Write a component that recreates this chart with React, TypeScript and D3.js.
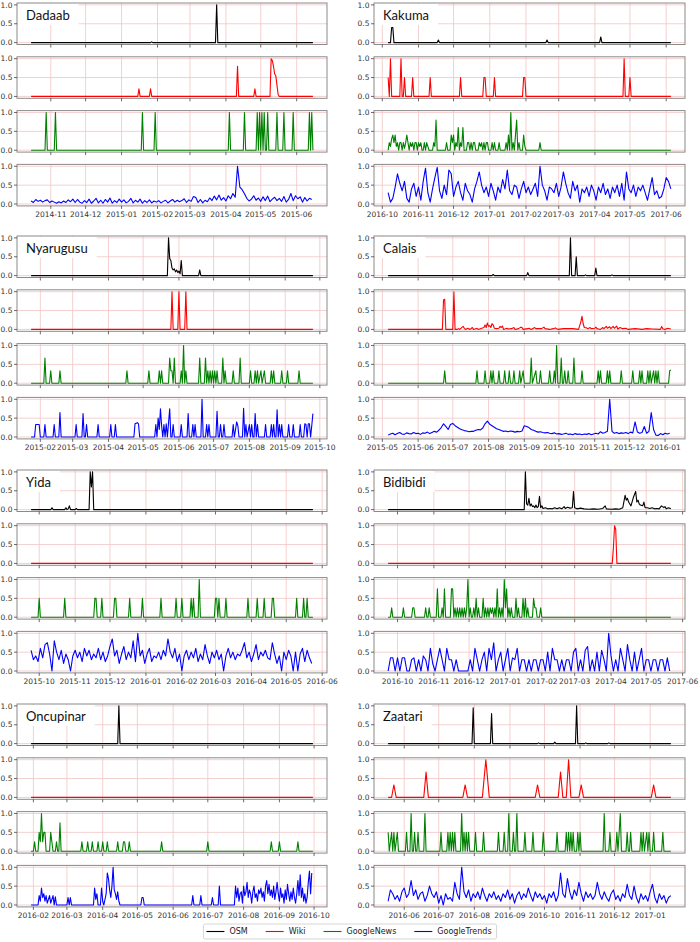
import React from "react";
import * as d3 from "d3";

type Pt = [number, number];

// layout (pixels)
const WIDTH = 700;
const HEIGHT = 942;
const colLeft = [17, 374];
const colWidth = [310, 311];
const rowTop = [3, 236, 470, 704];
const subPitch = 53.8;
const subHeight = 41.5;

const seriesNames = ["OSM", "Wiki", "GoogleNews", "GoogleTrends"];
const seriesColors = ["#000000", "#ff0000", "#008000", "#0000ff"];
const yTickValues = [0, 0.5, 1];
const trendStep = 2;

// ---- Dadaab (days from 2014-10-15) ----
const dadaabOsm: Pt[] = [[0,0],[103,0],[104,0.02],[105,0],[159,0],[160,1],[161,0],[243,0]];
const dadaabWiki: Pt[] = [[0,0],[92,0],[93,0.2],[94,0],[102,0],[103,0.2],[104,0],[177,0],[178,0.8],[179,0],[192,0],[193,0.2],[194,0],[206,0],[207,1],[208,0.95],[209,0.8],[210,0.6],[211,0.55],[212,0.3],[213,0.05],[214,0],[243,0]];
const dadaabNews: Pt[] = [[0,0],[12,0],[13,1],[14,0],[20,0],[21,1],[22,0],[95,0],[96,1],[97,0],[106,0],[107,1],[108,0],[170,0],[171,1],[172,0],[183,0],[184,1],[185,0],[194,0],[195,1],[196,0],[197,1],[198,0],[199,1],[200,0],[201,1],[202,0],[203,0],[204,1],[205,0],[211,0],[212,1],[213,0],[217,0],[218,1],[219,0],[225,0],[226,1],[227,0],[239,0],[240,1],[241,0],[242,1],[243,0]];
const dadaabTrends = [
  0.08,0.04,0.12,0.07,0.10,0.05,0.09,0.11,0.04,0.08,
  0.05,0.02,0.06,0.03,0.08,0.04,0.11,0.06,0.13,0.04,
  0.12,0.05,0.02,0.09,0.04,0.13,0.02,0.08,0.15,0.03,
  0.10,0.02,0.12,0.05,0.16,0.02,0.09,0.04,0.13,0.05,
  0.11,0.03,0.07,0.15,0.03,0.10,0.05,0.13,0.02,0.09,
  0.04,0.11,0.03,0.08,0.05,0.09,0.03,0.07,0.10,0.03,
  0.08,0.12,0.05,0.10,0.06,0.09,0.14,0.04,0.11,0.07,
  0.20,0.17,0.04,0.12,0.03,0.10,0.06,0.16,0.09,0.21,
  0.11,0.24,0.10,0.17,0.08,0.22,0.14,0.28,0.18,1.00,
  0.45,0.38,0.27,0.15,0.08,0.13,0.22,0.10,0.16,0.07,
  0.19,0.09,0.21,0.06,0.13,0.18,0.09,0.15,0.07,0.20,
  0.05,0.12,0.28,0.09,0.22,0.14,0.19,0.05,0.17,0.08,0.15,0.12,
];

// ---- Kakuma (days from 2016-10-06) ----
const kakumaOsm: Pt[] = [[0,0],[2,0],[3,0.4],[4,0.4],[5,0],[42,0],[43,0.07],[44,0],[135,0],[136,0.07],[137,0],[181,0],[182,0.15],[183,0],[242,0]];
const kakumaWiki: Pt[] = [[0,0.5],[1,0],[2,1],[3,0],[10,0],[11,1],[12,0],[13,0],[14,0.5],[15,0],[20,0],[21,0.5],[22,0],[35,0],[36,0.5],[37,0],[61,0],[62,0.5],[63,0],[81,0],[82,0.5],[83,0.5],[84,0],[90,0],[91,0.5],[92,0],[115,0],[116,0.5],[117,0.5],[118,0],[201,0],[202,1],[203,0],[206,0],[207,0.5],[208,0],[242,0]];
const kakumaNews: Pt[] = [[0,0],[1,0.2],[2,0.1],[3,0.3],[4,0.4],[5,0.2],[6,0.4],[7,0.1],[8,0.2],[9,0],[10,0.2],[11,0.2],[12,0],[13,0.2],[14,0.05],[15,0.2],[16,0.4],[17,0.2],[18,0],[19,0.2],[20,0.1],[21,0.2],[22,0],[23,0.2],[24,0.2],[25,0],[26,0.2],[27,0.1],[28,0.2],[29,0],[30,0],[31,0.2],[32,0],[33,0.2],[34,0.1],[35,0],[38,0],[39,0.2],[40,0.1],[41,0.8],[42,0],[49,0],[50,0.2],[51,0],[53,0],[54,0.4],[55,0.2],[56,0.4],[57,0],[58,0.2],[59,0.1],[60,0.6],[61,0],[62,0.2],[63,0.1],[64,0.6],[65,0],[67,0],[68,0.2],[69,0.2],[70,0],[71,0.2],[72,0],[73,0.2],[74,0.2],[75,0],[77,0],[78,0.2],[79,0.1],[80,0.2],[81,0],[82,0.2],[83,0],[84,0.2],[85,0.2],[86,0],[88,0],[89,0.2],[90,0],[91,0.2],[92,0],[94,0],[95,0.2],[96,0],[100,0],[101,0.2],[102,0],[103,0.4],[104,0],[105,1],[106,0],[107,0.2],[108,0],[109,0.4],[110,0.8],[111,0],[112,0.2],[113,0],[115,0],[116,0.4],[117,0.1],[118,0],[129,0],[130,0.2],[131,0],[242,0]];
const kakumaTrends = [
  0.30,0.05,0.15,0.45,0.80,0.55,0.35,0.60,0.15,0.05,
  0.40,0.55,0.20,0.45,0.10,0.60,0.95,0.30,0.05,0.40,
  0.70,0.97,0.35,0.15,0.50,0.25,0.90,0.80,0.20,0.45,
  0.60,0.30,0.10,0.55,0.35,0.25,0.05,0.40,0.60,0.85,
  0.50,0.30,0.45,0.20,0.55,0.35,0.10,0.45,0.30,0.65,
  0.40,0.90,0.35,0.25,0.50,0.45,0.15,0.40,0.60,0.30,
  0.45,0.25,0.40,0.55,0.20,1.00,0.50,0.35,0.10,0.45,
  0.40,0.30,0.55,0.20,0.45,0.85,0.55,0.30,0.15,0.60,
  0.35,0.50,0.05,0.40,0.30,0.45,0.20,0.50,0.35,0.10,
  0.45,0.30,0.55,0.25,0.40,0.15,0.45,0.30,0.50,0.20,
  0.55,0.10,0.85,0.40,0.30,0.50,0.20,0.45,0.35,0.50,
  0.30,0.10,0.40,0.70,0.25,0.35,0.15,0.20,0.40,0.70,0.60,0.40,
];

// ---- Nyarugusu (days from 2015-01-24) ----
const nyarugusuOsm: Pt[] = [[0,0],[118,0],[119,1],[120,0.45],[121,0.4],[122,0.2],[123,0.15],[124,0.18],[125,0.1],[126,0.15],[127,0.08],[128,0.12],[129,0.05],[130,0.4],[131,0],[145,0],[146,0.15],[147,0],[244,0]];
const nyarugusuWiki: Pt[] = [[0,0],[121,0],[122,1],[123,0],[127,0],[128,1],[129,0],[133,0],[134,1],[135,0],[244,0]];
const nyarugusuNews: Pt[] = [[0,0],[11,0],[12,0.67],[13,0],[16,0],[17,0.33],[18,0],[24,0],[25,0.33],[26,0],[82,0],[83,0.33],[84,0],[101,0],[102,0.33],[103,0],[110,0],[111,0.33],[112,0],[113,0.33],[114,0],[119,0],[120,0.67],[121,0.33],[122,0.33],[123,0],[124,0.67],[125,0],[129,0],[130,0.33],[131,0],[132,1],[133,0],[134,0.33],[135,0],[145,0],[146,0.67],[147,0],[150,0],[151,0.67],[152,0],[153,0.33],[154,0],[155,0.33],[156,0],[157,0.33],[158,0],[159,0.33],[160,0],[161,0.33],[162,0],[165,0],[166,0.67],[167,0],[168,0.33],[169,0],[174,0],[175,0.33],[176,0],[180,0],[181,0.67],[182,0],[189,0],[190,0.33],[191,0],[193,0],[194,0.33],[195,0],[196,0.33],[197,0],[199,0.33],[200,0],[202,0.33],[203,0],[207,0],[208,0.33],[209,0],[210,0.33],[211,0],[216,0],[217,0.33],[218,0],[221,0],[222,0.33],[223,0],[231,0],[232,0.33],[233,0],[244,0]];
const nyarugusuTrends: Pt[] = [[0,0],[3,0],[4,0.33],[7,0.33],[8,0],[11,0],[12,0.33],[13,0],[19,0],[20,0.33],[21,0],[24,0],[25,0.65],[26,0],[38,0],[39,0.33],[40,0],[44,0],[45,0.62],[46,0],[47,0],[48,0.33],[49,0],[57,0],[58,0.33],[59,0],[68,0],[69,0.33],[70,0],[72,0],[73,0.33],[74,0],[89,0],[90,0.35],[92,0.38],[93,0.35],[94,0],[107,0],[108,0.33],[109,0],[110,0.5],[111,0.2],[112,0.75],[113,0.3],[114,0],[115,0.33],[116,0],[117,0.35],[118,0],[120,0.75],[121,0],[122,0],[123,0.33],[124,0],[129,0],[130,0.33],[131,0],[135,0],[136,0.62],[137,0],[139,0],[140,0.33],[141,0],[142,0.33],[143,0],[147,0],[148,1],[149,0],[151,0],[152,0.33],[153,0],[154,0.33],[155,0],[160,0],[161,0.68],[162,0],[163,0],[164,0.33],[165,0],[166,0],[167,0.33],[168,0],[174,0],[175,0.33],[176,0],[177,0.2],[178,0.4],[179,0.3],[180,0],[183,0],[184,0.76],[185,0],[186,0.33],[187,0],[189,0.33],[190,0],[191,0.33],[192,0],[193,0],[194,0.62],[195,0],[196,0.33],[197,0],[202,0],[203,0.33],[204,0],[207,0],[208,0.33],[209,0],[210,0.33],[211,0],[212,0],[213,0.72],[214,0],[215,0.33],[216,0],[217,0.33],[218,0],[222,0],[223,0.33],[224,0],[226,0],[227,0.33],[228,0],[232,0],[233,0.33],[234,0],[236,0],[237,0.35],[238,0.33],[239,0],[240,0.35],[241,0.35],[242,0],[243,0.3],[244,0.62]];

// ---- Calais (days from 2015-05-06) ----
const calaisOsm: Pt[] = [[0,0],[90,0],[91,0.03],[92,0],[120,0],[121,0.08],[122,0],[157,0],[158,1],[159,0],[162,0],[163,0.5],[164,0],[170,0],[171,0.02],[172,0],[179,0],[180,0.2],[181,0],[193,0],[194,0.02],[195,0],[245,0]];
const calaisWiki: Pt[] = [[0,0],[47,0],[48,0.78],[49,0.8],[50,0],[56,0],[57,1],[58,0],[60,0],[61,0.02],[62,0],[65,0.08],[66,0.03],[67,0],[69,0.03],[71,0],[73,0.05],[74,0],[77,0.03],[78,0],[83,0.05],[84,0.12],[85,0.05],[86,0.17],[87,0.08],[88,0.1],[89,0.05],[90,0.15],[91,0.12],[92,0.03],[94,0.02],[96,0.03],[97,0.08],[98,0.05],[99,0.09],[100,0],[103,0.03],[104,0.01],[107,0.02],[109,0.05],[110,0],[113,0.02],[115,0.06],[116,0.05],[117,0],[121,0.02],[122,0.03],[124,0],[127,0.05],[128,0.02],[133,0.02],[135,0.06],[136,0.02],[140,0],[143,0.02],[145,0.04],[147,0],[152,0.02],[160,0.02],[165,0],[167,0.2],[168,0.35],[169,0.15],[170,0.05],[172,0.04],[173,0.02],[175,0.05],[176,0.02],[179,0.03],[180,0.06],[181,0.02],[184,0],[186,0.05],[187,0.02],[189,0.08],[190,0.03],[192,0.07],[193,0.02],[195,0.08],[196,0.03],[198,0.09],[199,0.01],[201,0.05],[203,0.02],[206,0.03],[208,0],[214,0.02],[220,0],[224,0.02],[229,0.01],[236,0],[237,0.08],[238,0.02],[240,0],[242,0.03],[245,0.01]];
const calaisNews: Pt[] = [[0,0],[48,0],[49,0.33],[50,0],[76,0],[77,0.33],[78,0],[83,0],[84,0.33],[85,0],[88,0],[89,0.33],[90,0],[91,0.33],[92,0],[95,0],[96,0.33],[97,0],[100,0],[101,0.33],[102,0],[104,0],[105,0.33],[106,0],[108,0],[109,0.33],[110,0],[113,0],[114,0.33],[115,0],[117,0.33],[118,0],[123,0],[124,0.67],[125,0],[128,0.33],[129,0],[131,0],[132,0.33],[133,0],[139,0],[140,0.33],[141,0],[143,0],[144,0.33],[145,0],[146,1],[147,0],[149,0],[150,0.67],[151,0],[152,0],[153,0.33],[154,0],[155,0],[156,0.33],[157,0],[160,0],[161,0.67],[162,0],[167,0],[168,0.33],[169,0],[181,0],[182,0.33],[183,0],[184,0.33],[185,0],[189,0],[190,0.33],[191,0],[192,0.33],[193,0],[201,0],[202,0.33],[203,0],[211,0],[212,0.33],[213,0],[217,0],[218,0.33],[219,0],[220,0.33],[221,0],[224,0],[225,0.33],[226,0],[227,0.33],[228,0],[230,0.33],[231,0],[232,0.33],[233,0],[234,0.33],[235,0],[243,0],[244,0.33],[245,0.35]];
const calaisTrends = [
  0.05,0.08,0.10,0.06,0.09,0.12,0.08,0.07,0.11,0.09,
  0.08,0.12,0.09,0.10,0.07,0.11,0.10,0.13,0.09,0.12,
  0.15,0.13,0.18,0.25,0.35,0.28,0.20,0.33,0.36,0.30,
  0.26,0.22,0.19,0.17,0.16,0.14,0.15,0.15,0.18,0.20,
  0.19,0.24,0.35,0.42,0.34,0.30,0.26,0.22,0.20,0.17,
  0.15,0.16,0.14,0.16,0.15,0.13,0.15,0.14,0.16,0.30,
  0.28,0.25,0.20,0.18,0.15,0.13,0.14,0.12,0.11,0.12,
  0.10,0.09,0.11,0.08,0.09,0.07,0.08,0.10,0.07,0.08,
  0.06,0.09,0.07,0.08,0.06,0.08,0.07,0.09,0.06,0.08,
  0.10,0.08,0.14,0.10,0.12,0.15,1.00,0.15,0.10,0.12,
  0.09,0.11,0.10,0.12,0.09,0.13,0.11,0.40,0.13,0.10,
  0.12,0.28,0.10,0.15,0.65,0.20,0.05,0.04,0.09,0.06,0.10,0.08,0.10,
];

// ---- Yida (days from 2015-09-24) ----
const yidaOsm: Pt[] = [[0,0],[17,0],[18,0.05],[19,0],[29,0],[30,0.05],[31,0],[32,0.02],[33,0.1],[34,0],[38,0],[39,0.03],[40,0],[50,0],[51,1],[52,0.6],[53,1],[54,0],[243,0]];
const yidaWiki: Pt[] = [[0,0],[243,0]];
const yidaNews: Pt[] = [[0,0],[6,0],[7,0.5],[8,0],[28,0],[29,0.5],[30,0],[54,0],[55,0.5],[56,0.5],[57,0],[60,0],[61,0.5],[62,0],[71,0],[72,0.5],[73,0.5],[74,0],[84,0],[85,0.5],[86,0],[95,0],[96,0.5],[97,0],[111,0],[112,0.5],[113,0],[124,0],[125,0.5],[126,0],[129,0],[130,0.5],[131,0],[137,0],[138,0.5],[139,0],[140,0.5],[141,0],[144,0],[145,1],[146,0],[158,0],[159,0.5],[160,0.5],[161,0],[162,0.5],[163,0],[167,0],[168,0.5],[169,0],[186,0],[187,0.5],[188,0],[194,0],[195,0.5],[196,0],[200,0],[201,0.5],[202,0],[207,0],[208,0.5],[209,0.5],[210,0],[228,0],[229,0.5],[230,0],[234,0],[235,0.5],[236,0],[237,0],[238,0.5],[239,0],[243,0]];
const yidaTrends = [
  0.55,0.30,0.40,0.25,0.60,0.35,0.70,0.75,0.45,0.00,
  0.80,0.50,0.30,0.55,0.20,0.45,0.30,0.00,0.40,0.55,
  0.35,0.50,0.25,0.60,0.40,0.55,0.30,0.45,0.35,0.60,
  0.30,0.50,0.25,0.40,0.65,0.85,0.40,0.55,0.20,0.45,
  0.65,0.30,0.50,0.35,0.80,0.25,1.00,0.40,0.55,0.20,
  0.45,0.60,0.25,0.40,0.35,0.50,0.30,0.55,0.40,0.85,
  0.50,0.35,0.60,0.25,0.45,0.00,0.40,0.55,0.30,0.50,
  0.35,0.60,0.25,0.45,0.30,0.70,0.40,0.20,0.50,0.35,
  0.55,0.30,0.45,0.00,0.40,0.60,0.35,0.50,0.30,0.45,
  0.40,0.55,0.75,0.35,0.50,0.25,0.45,0.70,0.30,0.50,
  0.40,0.55,0.35,0.30,0.75,0.45,0.20,0.40,0.00,0.50,
  0.30,0.55,0.40,0.00,0.50,0.00,0.45,0.60,0.25,0.55,0.35,0.20,
];

// ---- Bidibidi (days from 2016-09-23) ----
const bidibidiOsm: Pt[] = [[0,0],[116,0],[117,1],[118,0.15],[119,0.12],[120,0.3],[121,0.1],[122,0.15],[123,0.08],[124,0.1],[125,0.05],[126,0.12],[127,0.05],[128,0.08],[129,0.35],[130,0.05],[131,0.1],[132,0.03],[134,0.05],[136,0.02],[138,0.03],[140,0.02],[142,0.05],[144,0.02],[146,0.05],[148,0.02],[150,0.08],[151,0.03],[153,0.06],[155,0.04],[157,0.05],[158,0.48],[159,0.05],[161,0.02],[164,0.04],[167,0.02],[171,0.01],[175,0.02],[179,0.01],[183,0.03],[185,0.1],[186,0.02],[190,0.01],[194,0.02],[197,0.01],[200,0.05],[202,0.38],[203,0.25],[204,0.3],[205,0.2],[206,0.15],[207,0.1],[209,0.32],[211,0.48],[212,0.2],[213,0.25],[214,0.15],[215,0.12],[217,0.1],[218,0.2],[219,0.05],[221,0.05],[223,0.03],[225,0.05],[227,0.02],[229,0.03],[231,0.02],[233,0.1],[234,0.08],[235,0.05],[236,0.08],[237,0.02],[239,0.05],[241,0.02]];
const bidibidiWiki: Pt[] = [[0,0],[191,0],[192,0.4],[193,1],[194,0.9],[195,0],[241,0]];
const bidibidiNews: Pt[] = [[0,0],[2,0],[3,0.25],[4,0],[12,0],[13,0.25],[14,0],[20,0],[21,0.25],[22,0.25],[23,0],[31,0],[32,0.25],[33,0],[34,0],[35,0.25],[36,0],[41,0],[42,0.75],[43,0],[45,0],[46,0.25],[47,0],[48,0.75],[49,0],[53,0],[54,0.75],[55,0.75],[56,0],[57,0.25],[58,0],[59,0.25],[60,0],[61,0.25],[62,0],[63,0.25],[64,0],[65,0.25],[66,0],[67,0.25],[68,1],[69,0],[70,0.25],[71,0],[72,0],[73,0.25],[74,0],[75,0.5],[76,0],[77,0.25],[78,0],[80,0],[81,0.5],[82,0],[83,0.25],[84,0],[85,0.25],[86,0],[87,0.25],[88,0.1],[89,0.25],[90,0],[91,0.25],[92,0],[93,0.75],[94,0],[95,0.25],[96,0],[97,0.25],[98,0],[99,1],[100,0.25],[101,0.75],[102,0],[103,0.25],[104,0],[105,0.25],[106,0],[108,0],[109,0.5],[110,0],[111,0.25],[112,0],[114,0],[115,0.5],[116,0],[117,0.5],[118,0],[119,0.25],[120,0],[123,0],[124,0.5],[125,0.25],[126,0.25],[127,0],[129,0],[130,0.25],[131,0],[241,0]];
const bidibidiTrends = [
  0.00,0.35,0.35,0.00,0.35,0.00,0.35,0.35,0.00,0.00,
  0.30,0.35,0.00,0.30,0.00,0.40,0.30,0.00,0.60,0.20,
  0.00,0.30,0.60,0.30,0.00,0.60,0.30,0.30,0.00,0.30,
  0.00,0.00,0.00,0.00,0.00,0.30,0.00,0.60,0.30,0.00,
  0.30,0.50,0.00,0.60,0.30,0.75,0.00,0.30,0.50,0.00,
  0.30,0.60,0.00,0.35,0.30,0.60,0.00,0.30,0.30,0.00,
  0.30,0.00,0.30,0.30,0.00,0.30,0.30,0.00,0.50,0.00,
  0.60,0.30,0.30,0.00,0.30,0.00,0.30,0.30,0.00,0.50,
  0.60,0.00,0.30,0.00,0.55,0.65,0.00,0.30,0.00,0.50,
  0.00,0.55,0.30,0.00,1.00,0.40,0.00,0.30,0.00,0.60,
  0.30,0.00,0.70,0.30,0.00,0.50,0.00,0.30,0.60,0.00,
  0.30,0.30,0.00,0.30,0.30,0.00,0.30,0.30,0.00,0.35,0.00,
];

// ---- Oncupinar (days from 2016-01-30) ----
const oncupinarOsm: Pt[] = [[0,0],[75,0],[76,1],[77,0],[244,0]];
const oncupinarWiki: Pt[] = [[0,0],[244,0]];
const oncupinarNews: Pt[] = [[0,0],[2,0],[3,0.25],[4,0],[6,0],[7,0.5],[8,0.25],[9,1],[10,0.25],[11,0.5],[12,0.5],[13,0],[16,0],[17,0.5],[18,0.25],[19,0],[21,0],[22,0.25],[23,0],[24,0],[25,0.75],[26,0],[43,0],[44,0.25],[45,0],[48,0],[49,0.25],[50,0],[52,0],[53,0.25],[54,0],[57,0],[58,0.25],[59,0],[61,0],[62,0.25],[63,0],[65,0],[66,0.25],[67,0],[74,0],[75,0.25],[76,0],[79,0],[80,0.25],[81,0.25],[82,0],[84,0],[85,0.25],[86,0],[112,0],[113,0.25],[114,0],[152,0],[153,0.25],[154,0],[207,0],[208,0.25],[209,0],[214,0],[215,0.25],[216,0],[230,0],[231,0.25],[232,0],[244,0]];
const oncupinarTrends: Pt[] = [[0,0],[6,0],[7,0.25],[8,0.1],[9,0.45],[10,0.2],[11,0.3],[12,0.1],[13,0.25],[14,0.05],[16,0.25],[17,0.05],[19,0.25],[20,0],[21,0.22],[22,0],[31,0],[32,0.2],[33,0],[34,0.2],[35,0],[54,0],[55,0.45],[56,0.15],[57,0.3],[58,0],[60,0],[61,0.45],[62,0.1],[63,0],[65,0.3],[66,0.85],[67,0.7],[68,0.4],[69,0.2],[70,0.5],[71,1],[72,0.4],[73,0.3],[74,0.15],[75,0.35],[76,0.1],[77,0],[95,0],[96,0.2],[97,0.2],[98,0],[139,0],[140,0.25],[141,0],[146,0],[147,0.25],[148,0],[156,0],[157,0.2],[158,0],[162,0],[163,0.5],[164,0],[176,0],[177,0.5],[178,0.2],[179,0.45],[180,0.1],[181,0.3],[182,0.35],[183,0.05],[184,0.5],[185,0.25],[186,0.35],[187,0.6],[188,0.2],[189,0.4],[190,0.3],[191,0.05],[192,0.35],[193,0.5],[194,0.2],[195,0.3],[196,0.1],[197,0.4],[198,0.3],[199,0.45],[200,0.2],[201,0.35],[202,0.1],[203,0.5],[204,0.65],[205,0.3],[206,0.55],[207,0.25],[208,0.4],[209,0.2],[210,0.5],[211,0.15],[212,0.35],[213,0.6],[214,0.3],[215,0.1],[216,0.45],[217,0.2],[218,0.3],[219,0.05],[220,0.4],[221,0.15],[222,0.55],[223,0.3],[224,0.1],[225,0.35],[226,0.15],[227,0.45],[228,0.2],[229,0.05],[230,0.3],[231,0.65],[232,0.25],[233,0.8],[234,0.2],[235,0.45],[236,0.1],[237,0.3],[238,0.05],[239,0.2],[240,0.6],[241,0.9],[242,0.3],[243,0.85]];

// ---- Zaatari (days from 2016-05-18) ----
const zaatariOsm: Pt[] = [[0,0],[73,0],[74,0.95],[75,0],[89,0],[90,0.8],[91,0],[130,0],[131,0.02],[132,0],[144,0],[145,0.04],[146,0],[163,0],[164,1],[165,0],[171,0],[172,0.02],[173,0],[191,0],[192,0.02],[193,0],[246,0]];
const zaatariWiki: Pt[] = [[0,0],[3,0],[5,0.33],[7,0],[31,0],[33,0.67],[35,0],[65,0],[67,0.33],[69,0],[82,0],[85,1],[88,0],[128,0],[130,0.33],[132,0],[148,0],[150,0.67],[152,0],[155,0],[157,1],[159,0],[166,0],[168,0.33],[170,0],[229,0],[231,0.33],[233,0],[246,0]];
const zaatariNews: Pt[] = [[0,0.5],[1,0],[3,0.5],[4,0],[5,0.5],[6,0],[8,0.5],[9,0],[15,0],[16,0.5],[17,0],[19,0],[20,1],[21,0],[22,0],[23,0.5],[24,0],[25,0],[26,0.5],[27,0],[31,0],[32,1],[33,0],[45,0],[46,0.5],[47,0],[51,0],[52,0.5],[53,0],[54,0.5],[55,0],[56,0.5],[57,0],[58,0.5],[59,0],[63,0],[64,1],[65,0],[66,0.5],[67,0],[68,0.5],[69,0],[70,0.5],[71,0],[75,0],[76,0.5],[77,0],[82,0],[83,0.5],[84,0],[95,0],[96,0.5],[97,0],[100,0],[101,0.5],[102,0],[104,0],[105,1],[106,0],[108,0],[109,0.5],[110,0],[111,0],[112,1],[113,0],[118,0],[119,0.5],[120,0],[125,0],[126,0.5],[127,0],[134,0],[135,0.5],[136,0],[146,0],[147,0.5],[148,0],[154,0],[155,0.5],[156,0],[157,0.5],[158,0],[159,0.5],[160,0],[161,0.5],[162,0],[164,0],[165,0.5],[166,0],[167,0.5],[168,0],[187,0],[188,1],[189,0],[192,0],[193,0.5],[194,0],[198,0],[199,0.5],[200,0],[202,1],[203,0],[207,0],[208,0.5],[209,0],[210,0],[211,0.5],[212,0],[219,0],[220,0.5],[221,0],[222,0.5],[223,0],[225,0.5],[226,0],[227,0.5],[228,0],[230,0],[231,0.5],[232,0],[238,0],[239,0.5],[240,0],[246,0]];
const zaatariTrends = [
  0.10,0.40,0.30,0.15,0.25,0.10,0.35,0.45,0.20,0.30,
  0.65,0.25,0.40,0.15,0.30,0.35,0.10,0.25,0.50,0.30,
  0.20,0.35,0.05,0.25,0.00,0.30,0.15,0.20,0.10,0.60,
  0.30,0.15,1.00,0.35,0.20,0.40,0.10,0.30,0.20,0.35,
  0.15,0.45,0.25,0.10,0.30,0.20,0.35,0.15,0.25,0.10,
  0.30,0.20,0.40,0.15,0.30,0.05,0.25,0.35,0.15,0.30,
  0.20,0.45,0.25,0.10,0.35,0.20,0.30,0.15,0.25,0.05,
  0.30,0.20,0.35,0.10,0.25,0.85,0.30,0.20,0.70,0.35,
  0.15,0.40,0.25,0.60,0.30,0.10,0.35,0.20,0.30,0.15,
  0.25,0.60,0.30,0.15,0.35,0.20,0.10,0.30,0.40,0.15,
  0.25,0.10,0.30,0.20,0.55,0.25,0.15,0.50,0.20,0.05,
  0.30,0.15,0.25,0.10,0.35,0.55,0.20,0.05,0.30,0.15,0.25,0.05,0.20,0.25,
];

const asSteps = (vals: number[]): Pt[] => vals.map((v, i) => [i * trendStep, v] as Pt);

const panels = [
  { name: "Dadaab", col: 0, row: 0, start: "2014-10-15", end: "2015-06-15", series: [dadaabOsm, dadaabWiki, dadaabNews, asSteps(dadaabTrends)] },
  { name: "Kakuma", col: 1, row: 0, start: "2016-10-06", end: "2017-06-05", series: [kakumaOsm, kakumaWiki, kakumaNews, asSteps(kakumaTrends)] },
  { name: "Nyarugusu", col: 0, row: 1, start: "2015-01-24", end: "2015-09-25", series: [nyarugusuOsm, nyarugusuWiki, nyarugusuNews, nyarugusuTrends] },
  { name: "Calais", col: 1, row: 1, start: "2015-05-06", end: "2016-01-06", series: [calaisOsm, calaisWiki, calaisNews, asSteps(calaisTrends)] },
  { name: "Yida", col: 0, row: 2, start: "2015-09-24", end: "2016-05-24", series: [yidaOsm, yidaWiki, yidaNews, asSteps(yidaTrends)] },
  { name: "Bidibidi", col: 1, row: 2, start: "2016-09-23", end: "2017-05-22", series: [bidibidiOsm, bidibidiWiki, bidibidiNews, asSteps(bidibidiTrends)] },
  { name: "Oncupinar", col: 0, row: 3, start: "2016-01-30", end: "2016-09-30", series: [oncupinarOsm, oncupinarWiki, oncupinarNews, oncupinarTrends] },
  { name: "Zaatari", col: 1, row: 3, start: "2016-05-18", end: "2017-01-19", series: [zaatariOsm, zaatariWiki, zaatariNews, asSteps(zaatariTrends)] },
];

const tickFont = "DejaVu Sans";
const titleFont = "Lato";
const gridColor = "#f3c4c4";
const frameColor = "#8a8a8a";

let measureCtx: CanvasRenderingContext2D | null = null;
function textWidth(str: string, font: string) {
  if (!measureCtx) measureCtx = document.createElement("canvas").getContext("2d");
  measureCtx!.font = font;
  return measureCtx!.measureText(str).width;
}

function Panel({ p }: { p: typeof panels[number] }) {
  const left = colLeft[p.col];
  const w = colWidth[p.col];
  const top = rowTop[p.row];
  const t0 = new Date(p.start + "T00:00:00Z");
  const t1 = new Date(p.end + "T00:00:00Z");
  const pad = (+t1 - +t0) * 0.05;
  const x = d3.scaleUtc().domain([new Date(+t0 - pad), new Date(+t1 + pad)]).range([0, w]);
  const y = d3.scaleLinear().domain([-0.05, 1.05]).range([subHeight, 0]);
  const months = x.ticks(d3.utcMonth.every(1) as any);
  const fmt = d3.utcFormat("%Y-%m");
  const line = d3.line<Pt>()
    .x(d => x(d3.utcDay.offset(t0, d[0])))
    .y(d => y(d[1]));
  const titleW = textWidth(p.name, `13px ${titleFont}`) + 17;

  return (
    <g transform={`translate(${left},${top})`}>
      {p.series.map((pts, s) => (
        <g key={s} transform={`translate(0,${s * subPitch})`}>
          <rect width={w} height={subHeight} fill="#fff" />
          {months.map((m, i) => (
            <line key={"gx" + i} x1={x(m)} x2={x(m)} y1={0} y2={subHeight} stroke={gridColor} strokeWidth={0.8} />
          ))}
          {yTickValues.map(v => (
            <line key={"gy" + v} x1={0} x2={w} y1={y(v)} y2={y(v)} stroke={gridColor} strokeWidth={0.8} />
          ))}
          {s === 0 && <rect x={1} y={1} width={titleW} height={21} fill="#fff" />}
          {s === 0 && (
            <text x={9} y={17} fontFamily={titleFont} fontSize={13} fill="#111">{p.name}</text>
          )}
          <path d={line(pts) || ""} fill="none" stroke={seriesColors[s]} strokeWidth={1.1} strokeLinejoin="round" />
          <rect width={w} height={subHeight} fill="none" stroke={frameColor} strokeWidth={1} />
          {yTickValues.map(v => (
            <g key={"ty" + v}>
              <line x1={-3} x2={0} y1={y(v)} y2={y(v)} stroke="#444" strokeWidth={0.8} />
              <text x={-4.5} y={y(v)} dy="0.35em" textAnchor="end" fontFamily={tickFont} fontSize={7.5} fill="#333">
                {v.toFixed(1)}
              </text>
            </g>
          ))}
          {months.map((m, i) => (
            <line key={"tx" + i} x1={x(m)} x2={x(m)} y1={subHeight} y2={subHeight + 3} stroke="#444" strokeWidth={0.8} />
          ))}
          {s === 3 && months.map((m, i) => (
            <text key={"lx" + i} x={x(m)} y={subHeight + 11.5} textAnchor="middle" fontFamily={tickFont} fontSize={7.5} fill="#333">
              {fmt(m)}
            </text>
          ))}
        </g>
      ))}
    </g>
  );
}

function Legend() {
  const font = `8px ${tickFont}`;
  const lineLen = 18, gap = 5, itemGap = 18, padX = 3;
  let cursor = 0;
  const items = seriesNames.map((n, i) => {
    const it = { name: n, color: seriesColors[i], x: cursor, tw: textWidth(n, font) };
    cursor += lineLen + gap + it.tw + itemGap;
    return it;
  });
  const totalW = cursor - itemGap + padX * 2 + 2;
  const x0 = WIDTH / 2 - totalW / 2;
  const y0 = 924, h = 15;
  return (
    <g transform={`translate(${x0},${y0})`}>
      <rect width={totalW} height={h} rx={2} fill="#fff" stroke="#cccccc" strokeWidth={0.8} />
      {items.map(it => (
        <g key={it.name} transform={`translate(${padX + it.x},0)`}>
          <line x1={0} x2={lineLen} y1={h / 2} y2={h / 2} stroke={it.color} strokeWidth={1.1} />
          <text x={lineLen + gap} y={h / 2} dy="0.35em" fontFamily={tickFont} fontSize={8} fill="#222">{it.name}</text>
        </g>
      ))}
    </g>
  );
}

export default function App() {
  return (
    <svg width={WIDTH} height={HEIGHT} style={{ position: "absolute", left: 0, top: 0, background: "#fff" }}>
      {panels.map(p => <Panel key={p.name} p={p} />)}
      <Legend />
    </svg>
  );
}
